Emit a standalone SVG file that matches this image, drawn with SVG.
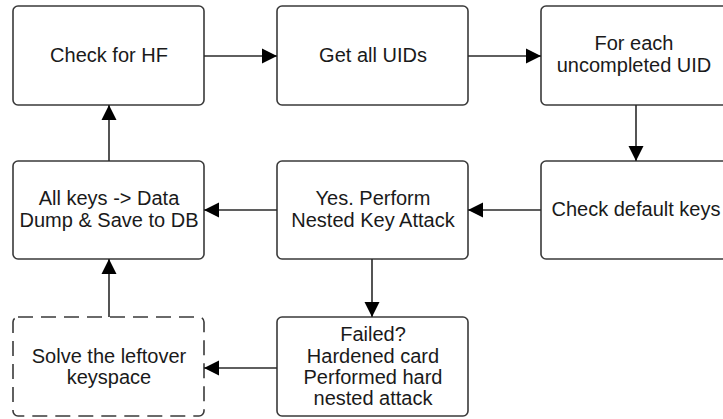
<svg xmlns="http://www.w3.org/2000/svg" width="723" height="419" viewBox="0 0 723 419">
  <style>
    .box { fill: #ffffff; stroke: #3a3a3a; stroke-width: 1.6; }
    .dashed { stroke-dasharray: 15 8; }
    .label { font-family: "Liberation Sans", Arial, sans-serif; font-size: 20px; fill: #1a1a1a; text-anchor: middle; }
    .edge { fill: none; stroke: #2a2a2a; stroke-width: 1.6; marker-end: url(#arrow); }
  </style>
  <defs>
    <marker id="arrow" markerUnits="userSpaceOnUse" markerWidth="17" markerHeight="17" viewBox="0 0 17 17" refX="16" refY="8.5" orient="auto">
      <path d="M1,1 L16,8.5 L1,16 Z" fill="#000000"/>
    </marker>
  </defs>
  <rect width="723" height="419" fill="#ffffff"/>

  <g id="check-hf">
    <rect class="box" x="13" y="6" width="191" height="99" rx="5"/>
    <text class="label" x="109" y="62">Check for HF</text>
  </g>
  <g id="get-uids">
    <rect class="box" x="277" y="6" width="191" height="99" rx="5"/>
    <text class="label" x="373" y="62">Get all UIDs</text>
  </g>
  <g id="each-uid">
    <rect class="box" x="541" y="6" width="191" height="99" rx="5"/>
    <text class="label" x="634" y="50">For each</text>
    <text class="label" x="634" y="72">uncompleted UID</text>
  </g>
  <g id="default-keys">
    <rect class="box" x="541" y="161" width="191" height="98" rx="5"/>
    <text class="label" x="636" y="216">Check default keys</text>
  </g>
  <g id="nested-attack">
    <rect class="box" x="277" y="161" width="191" height="98" rx="5"/>
    <text class="label" x="373" y="205">Yes. Perform</text>
    <text class="label" x="373" y="227">Nested Key Attack</text>
  </g>
  <g id="dump-save">
    <rect class="box" x="13" y="161" width="191" height="98" rx="5"/>
    <text class="label" x="109" y="205">All keys -&gt; Data</text>
    <text class="label" x="109" y="227">Dump &amp; Save to DB</text>
  </g>
  <g id="hard-nested">
    <rect class="box" x="277" y="317" width="191" height="99" rx="5"/>
    <text class="label" x="373" y="341">Failed?</text>
    <text class="label" x="373" y="363">Hardened card</text>
    <text class="label" x="373" y="384">Performed hard</text>
    <text class="label" x="373" y="405">nested attack</text>
  </g>
  <g id="leftover">
    <rect class="box dashed" x="13" y="317" width="191" height="99" rx="5"/>
    <text class="label" x="109" y="363">Solve the leftover</text>
    <text class="label" x="109" y="384">keyspace</text>
  </g>

  <g id="connectors">
    <line class="edge" x1="204" y1="56" x2="277" y2="56"/>
    <line class="edge" x1="468" y1="56" x2="541" y2="56"/>
    <line class="edge" x1="636" y1="105" x2="636" y2="161"/>
    <line class="edge" x1="541" y1="210" x2="468" y2="210"/>
    <line class="edge" x1="277" y1="210" x2="204" y2="210"/>
    <line class="edge" x1="109" y1="161" x2="109" y2="105"/>
    <line class="edge" x1="372" y1="259" x2="372" y2="317"/>
    <line class="edge" x1="277" y1="368" x2="204" y2="368"/>
    <line class="edge" x1="109" y1="317" x2="109" y2="259"/>
  </g>
</svg>
